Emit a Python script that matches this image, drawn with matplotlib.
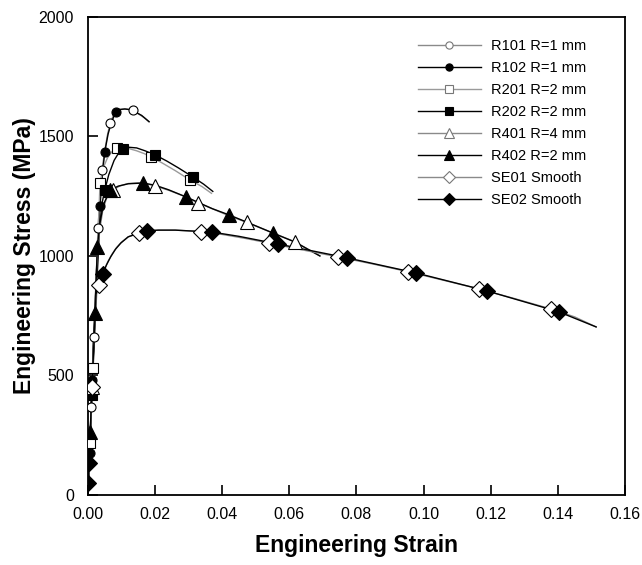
import matplotlib
matplotlib.use("Agg")
import matplotlib.pyplot as plt

# ---------------- data ----------------
r101_strain = [0, 0.0006, 0.0018, 0.003, 0.0036, 0.0042, 0.005, 0.0058, 0.0066, 0.0075, 0.0083, 0.0095, 0.011, 0.0125, 0.0134, 0.015, 0.0166, 0.0182]
r101_stress = [0, 220, 661, 1117, 1250, 1360, 1440, 1505, 1556, 1585, 1602, 1612, 1615, 1613, 1608, 1595, 1580, 1561]
r101_mk_strain = [0.001, 0.0018, 0.003, 0.0042, 0.0066, 0.0134]
r101_mk_stress = [368, 661, 1117, 1360, 1556, 1611]

r102_strain = [0, 0.0005, 0.0013, 0.0025, 0.0036, 0.0043, 0.005, 0.006, 0.007, 0.0083, 0.0095, 0.011, 0.0125, 0.014, 0.016, 0.0182]
r102_stress = [0, 176, 481, 920, 1209, 1340, 1435, 1510, 1560, 1602, 1613, 1615, 1612, 1603, 1588, 1562]
r102_mk_strain = [0.0005, 0.0013, 0.0036, 0.005, 0.0083]
r102_mk_stress = [176, 481, 1209, 1435, 1602]

r201_strain = [0, 0.0006, 0.0015, 0.0026, 0.0036, 0.0046, 0.0058, 0.0072, 0.0086, 0.0104, 0.012, 0.0145, 0.0168, 0.0188, 0.022, 0.026, 0.0304, 0.034, 0.0368]
r201_stress = [0, 218, 531, 950, 1305, 1370, 1410, 1437, 1450, 1452, 1450, 1440, 1428, 1414, 1390, 1357, 1318, 1290, 1262]
r201_mk_strain = [0.0006, 0.0015, 0.0036, 0.0086, 0.0188, 0.0304]
r201_mk_stress = [218, 531, 1305, 1450, 1414, 1318]

r202_strain = [0, 0.0006, 0.0012, 0.0025, 0.0035, 0.0042, 0.005, 0.0062, 0.0078, 0.0092, 0.0104, 0.012, 0.0145, 0.017, 0.020, 0.0235, 0.027, 0.0313, 0.0345, 0.0372]
r202_stress = [0, 218, 418, 850, 1120, 1220, 1276, 1340, 1400, 1432, 1448, 1455, 1452, 1440, 1423, 1397, 1368, 1330, 1300, 1270]
r202_mk_strain = [0.0012, 0.005, 0.0104, 0.020, 0.0313]
r202_mk_stress = [418, 1276, 1448, 1423, 1330]

r401_strain = [0, 0.0009, 0.0018, 0.0026, 0.0034, 0.0044, 0.0055, 0.0074, 0.0095, 0.012, 0.015, 0.018, 0.020, 0.024, 0.0292, 0.0328, 0.037, 0.042, 0.0474, 0.0551, 0.0617, 0.0691]
r401_stress = [0, 330, 700, 960, 1100, 1190, 1240, 1276, 1293, 1303, 1306, 1300, 1293, 1275, 1247, 1222, 1198, 1168, 1140, 1096, 1059, 1000]
r401_mk_strain = [0.0012, 0.0074, 0.020, 0.0328, 0.0474, 0.0617]
r401_mk_stress = [452, 1276, 1293, 1222, 1142, 1059]

r402_strain = [0, 0.0007, 0.0016, 0.0021, 0.0028, 0.0036, 0.0046, 0.0066, 0.009, 0.012, 0.0164, 0.020, 0.024, 0.0292, 0.0335, 0.037, 0.042, 0.0474, 0.0551, 0.0617, 0.0691]
r402_stress = [0, 264, 640, 761, 1038, 1140, 1215, 1276, 1292, 1302, 1305, 1296, 1277, 1247, 1220, 1198, 1172, 1141, 1096, 1058, 1000]
r402_mk_strain = [0.0007, 0.0021, 0.0028, 0.0066, 0.0164, 0.0292, 0.042, 0.0551]
r402_mk_stress = [264, 761, 1038, 1276, 1305, 1247, 1172, 1096]

se01_strain = [0, 0.0008, 0.0016, 0.0026, 0.0033, 0.0041, 0.005, 0.006, 0.0072, 0.0085, 0.0100, 0.0120, 0.0152, 0.0175, 0.021, 0.026, 0.0336, 0.04, 0.047, 0.0539, 0.064, 0.0745, 0.085, 0.0954, 0.106, 0.1165, 0.127, 0.138, 0.145, 0.1514]
se01_stress = [0, 300, 600, 840, 879, 910, 945, 978, 1008, 1035, 1058, 1080, 1096, 1105, 1108, 1108, 1102, 1090, 1073, 1054, 1025, 996, 966, 934, 898, 862, 822, 778, 745, 703]
se01_mk_strain = [0.0012, 0.0033, 0.0152, 0.0336, 0.0539, 0.0745, 0.0954, 0.1165, 0.138]
se01_mk_stress = [452, 879, 1096, 1102, 1054, 996, 934, 862, 778]

se02_strain = [0, 0.0001, 0.0003, 0.0012, 0.0024, 0.0034, 0.0044, 0.0055, 0.0068, 0.0082, 0.0098, 0.012, 0.0152, 0.0175, 0.021, 0.026, 0.0369, 0.045, 0.0566, 0.0772, 0.0977, 0.1188, 0.1403, 0.1514]
se02_stress = [0, 50, 134, 450, 840, 892, 925, 962, 997, 1028, 1054, 1080, 1096, 1105, 1108, 1108, 1100, 1082, 1050, 992, 929, 854, 766, 703]
se02_mk_strain = [0.0001, 0.0003, 0.0044, 0.0175, 0.0369, 0.0566, 0.0772, 0.0977, 0.1188, 0.1403]
se02_mk_stress = [50, 134, 925, 1105, 1100, 1050, 992, 929, 854, 766]

labels = ["R101 R=1 mm", "R102 R=1 mm", "R201 R=2 mm", "R202 R=2 mm",
          "R401 R=4 mm", "R402 R=2 mm", "SE01 Smooth", "SE02 Smooth"]
x_ticks = [0.00, 0.02, 0.04, 0.06, 0.08, 0.10, 0.12, 0.14, 0.16]
y_ticks = [0, 500, 1000, 1500, 2000]

# ---------------- styling ----------------
plt.rcParams['font.family'] = ['Liberation Sans', 'DejaVu Sans']

series = [
    (r101_strain, r101_stress, r101_mk_strain, r101_mk_stress, 'o', 'white', '#8a8a8a', 6.5),
    (r102_strain, r102_stress, r102_mk_strain, r102_mk_stress, 'o', 'black', 'black', 6.5),
    (r201_strain, r201_stress, r201_mk_strain, r201_mk_stress, 's', 'white', '#9a9a9a', 7),
    (r202_strain, r202_stress, r202_mk_strain, r202_mk_stress, 's', 'black', 'black', 7),
    (r401_strain, r401_stress, r401_mk_strain, r401_mk_stress, '^', 'white', '#8a8a8a', 9.5),
    (r402_strain, r402_stress, r402_mk_strain, r402_mk_stress, '^', 'black', 'black', 9.5),
    (se01_strain, se01_stress, se01_mk_strain, se01_mk_stress, 'D', 'white', '#8a8a8a', 8),
    (se02_strain, se02_stress, se02_mk_strain, se02_mk_stress, 'D', 'black', 'black', 8),
]

fig = plt.figure(figsize=(6.42, 5.65), dpi=100)
ax = fig.add_axes([0.137, 0.124, 0.8365, 0.846])

handles = []
for (xs, ys, mx, my, mk, fc, lc, ms), lab in zip(series, labels):
    ax.plot(xs, ys, '-', color=lc, lw=1.0, zorder=2)
    ax.plot(mx, my, linestyle='none', marker=mk, ms=ms, mfc=fc, mec='black',
            mew=0.8, zorder=3)
    h, = ax.plot([], [], '-', color=lc, lw=1.0, marker=mk, ms=ms * 0.8,
                 mfc=fc, mec='black' if fc == 'black' else '#777777', mew=0.8, label=lab)
    handles.append(h)

ax.set_xlim(0, 0.16)
ax.set_ylim(0, 2000)
ax.set_xticks(x_ticks)
ax.set_xticklabels([f"{t:.2f}" for t in x_ticks])
ax.set_yticks(y_ticks)
ax.tick_params(direction='in', length=7, width=1.2, labelsize=11.5,
               top=False, right=False)
ax.tick_params(axis='x', pad=9)
ax.tick_params(axis='y', pad=10)
for s in ax.spines.values():
    s.set_linewidth(1.3)

ax.set_xlabel("Engineering Strain", fontsize=16.5, fontweight='bold', labelpad=8)
ax.set_ylabel("Engineering Stress (MPa)", fontsize=16.5, fontweight='bold', labelpad=2)

leg = ax.legend(handles=handles, loc='upper right', frameon=False,
                fontsize=10.5, handlelength=4.3, handletextpad=0.7,
                labelspacing=0.55, borderaxespad=0.6,
                bbox_to_anchor=(0.955, 0.985))

fig.savefig("out.png", dpi=100)
